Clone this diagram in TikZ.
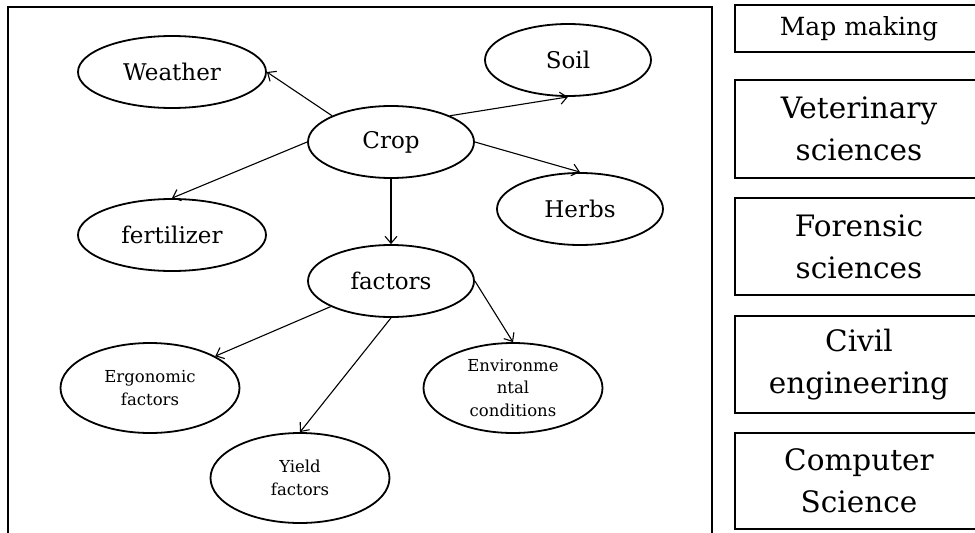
\documentclass[tikz,border=0pt]{standalone}
\usepackage{fontspec}
\setmainfont{DejaVu Serif}
\usetikzlibrary{shapes.geometric,arrows.meta}

\tikzset{
  bigoval/.style={ellipse, draw, line width=1.8pt, inner sep=0pt,
    minimum width=166pt, minimum height=72pt,
    font=\fontsize{23}{27}\selectfont},
  smalloval/.style={ellipse, draw, line width=1.8pt, inner sep=0pt,
    minimum width=179pt, minimum height=90pt, align=center,
    font=\fontsize{16.5}{22.5}\selectfont},
  fieldbox/.style={draw, line width=1.8pt, inner sep=0pt,
    minimum width=248pt, align=center,
    font=\fontsize{29.5}{42}\selectfont},
  link/.style={line width=1.1pt, -{Straight Barb[length=7pt,width=12pt]}}
}

\begin{document}
\begin{tikzpicture}[x=1pt,y=-1pt]
\useasboundingbox (0,0) rectangle (975,533);

% outer frame of the concept map (open at the bottom)
\draw[line width=1.9pt] (8,545) -- (8,7) -- (712,7) -- (712,545);

% concept map
\node[bigoval, minimum width=188pt] (weather) at (172,72)  {Weather};
\node[bigoval] (crop)    at (391,142) {Crop};
\node[bigoval] (soil)    at (568,60)  {Soil};
\node[bigoval] (herbs)   at (580,209) {Herbs};
\node[bigoval, minimum width=188pt] (fert) at (172,235) {fertilizer};
\node[bigoval] (factors) at (391,281) {factors};

\node[smalloval] (ergo)  at (150,388) {Ergonomic\\factors};
\node[smalloval] (yield) at (300,478) {Yield\\factors};
\node[smalloval] (env)   at (513,388) {Environme\\ntal\\conditions};

\draw[link] (crop.156) -- (weather.east);
\draw[link] (crop.west) -- (fert.north);
\draw[link] (crop.24)  -- (soil.south);
\draw[link] (crop.east) -- (herbs.north);
\draw[link] (crop.south) -- (factors.north);
\draw[link] (factors.203) -- (ergo.26);
\draw[link] (factors.south) -- (yield.north);
\draw[link] (factors.east) -- (env.north);

% application fields
\node[fieldbox, minimum height=47pt, font=\fontsize{25}{30}\selectfont]
  (mapmaking) at (859,28.5) {Map making};
\node[fieldbox, minimum height=98pt] (vet)   at (859,129)   {Veterinary\\sciences};
\node[fieldbox, minimum height=97pt] (foren) at (859,246.5) {Forensic\\sciences};
\node[fieldbox, minimum height=97pt] (civil) at (859,364.5) {Civil\\engineering};
\node[fieldbox, minimum height=96pt] (comp)  at (859,481)   {Computer\\Science};
\end{tikzpicture}
\end{document}
